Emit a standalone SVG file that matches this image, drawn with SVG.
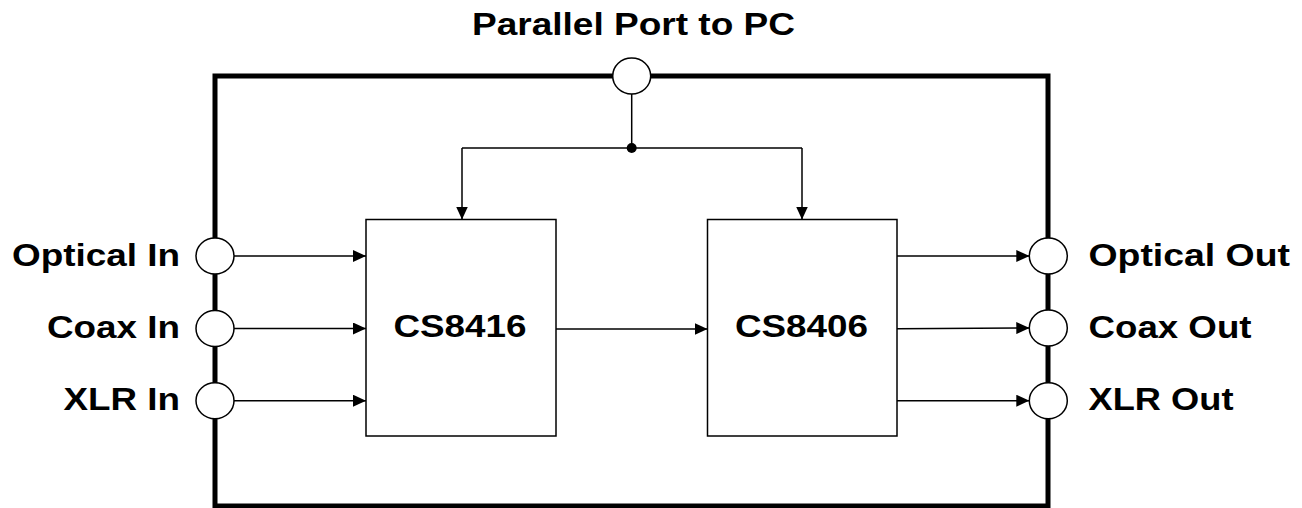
<svg xmlns="http://www.w3.org/2000/svg" width="1302" height="508" viewBox="0 0 1302 508">
<style>
.lbl{font-family:"Liberation Sans",Arial,sans-serif;font-weight:bold;font-size:31px;fill:#000}
.port{fill:#fff;stroke:#000;stroke-width:1.5}
.box{fill:#fff;stroke:#000;stroke-width:1.5}
.wire{fill:none;stroke:#000;stroke-width:1.5}
</style>
<defs>
<marker id="arr" markerUnits="userSpaceOnUse" markerWidth="13" markerHeight="12" refX="13" refY="6" orient="auto">
<path d="M0,0 L13,6 L0,12 z" fill="#000"/>
</marker>
</defs>
<rect width="1302" height="508" fill="#fff"/>
<g id="frame">
<rect x="215" y="76" width="833" height="430" fill="none" stroke="#000" stroke-width="5"/>
</g>
<g id="connectors">
<path class="wire" d="M631.7,94 V148"/>
<path class="wire" d="M462,148 H802"/>
<path class="wire" d="M462,148 V219.5" marker-end="url(#arr)"/>
<path class="wire" d="M802,148 V219.5" marker-end="url(#arr)"/>
<circle cx="631.7" cy="148" r="5" fill="#000"/>
<path class="wire" d="M234,256 H366" marker-end="url(#arr)"/>
<path class="wire" d="M234,328.5 H366" marker-end="url(#arr)"/>
<path class="wire" d="M234,400.7 H366" marker-end="url(#arr)"/>
<path class="wire" d="M556,329 H707.5" marker-end="url(#arr)"/>
<path class="wire" d="M897,256 H1029.3" marker-end="url(#arr)"/>
<path class="wire" d="M897,328.8 L1029.3,328" marker-end="url(#arr)"/>
<path class="wire" d="M897,400.7 H1029.3" marker-end="url(#arr)"/>
</g>
<g id="pc-port">
<ellipse class="port" cx="631.7" cy="76" rx="19" ry="18"/>
<text class="lbl" x="472" y="35" textLength="323" lengthAdjust="spacingAndGlyphs">Parallel Port to PC</text>
</g>
<g id="optical-in">
<ellipse class="port" cx="215" cy="256" rx="19" ry="18"/>
<text class="lbl" x="12" y="266" textLength="168" lengthAdjust="spacingAndGlyphs">Optical In</text>
</g>
<g id="coax-in">
<ellipse class="port" cx="215" cy="328.5" rx="19" ry="18"/>
<text class="lbl" x="47" y="338" textLength="133" lengthAdjust="spacingAndGlyphs">Coax In</text>
</g>
<g id="xlr-in">
<ellipse class="port" cx="215" cy="400.7" rx="19" ry="18"/>
<text class="lbl" x="63.5" y="410" textLength="116.5" lengthAdjust="spacingAndGlyphs">XLR In</text>
</g>
<g id="cs8416">
<rect class="box" x="366" y="219.5" width="190" height="216.5"/>
<text class="lbl" x="393.5" y="337" textLength="133" lengthAdjust="spacingAndGlyphs">CS8416</text>
</g>
<g id="cs8406">
<rect class="box" x="707.5" y="219.5" width="189.5" height="216.5"/>
<text class="lbl" x="735" y="337" textLength="133" lengthAdjust="spacingAndGlyphs">CS8406</text>
</g>
<g id="optical-out">
<ellipse class="port" cx="1048.3" cy="256" rx="19" ry="18"/>
<text class="lbl" x="1088.5" y="266" textLength="201.5" lengthAdjust="spacingAndGlyphs">Optical Out</text>
</g>
<g id="coax-out">
<ellipse class="port" cx="1048.3" cy="328" rx="19" ry="18"/>
<text class="lbl" x="1088.5" y="338" textLength="163" lengthAdjust="spacingAndGlyphs">Coax Out</text>
</g>
<g id="xlr-out">
<ellipse class="port" cx="1048.3" cy="400.7" rx="19" ry="18"/>
<text class="lbl" x="1088.5" y="410" textLength="145" lengthAdjust="spacingAndGlyphs">XLR Out</text>
</g>
</svg>
